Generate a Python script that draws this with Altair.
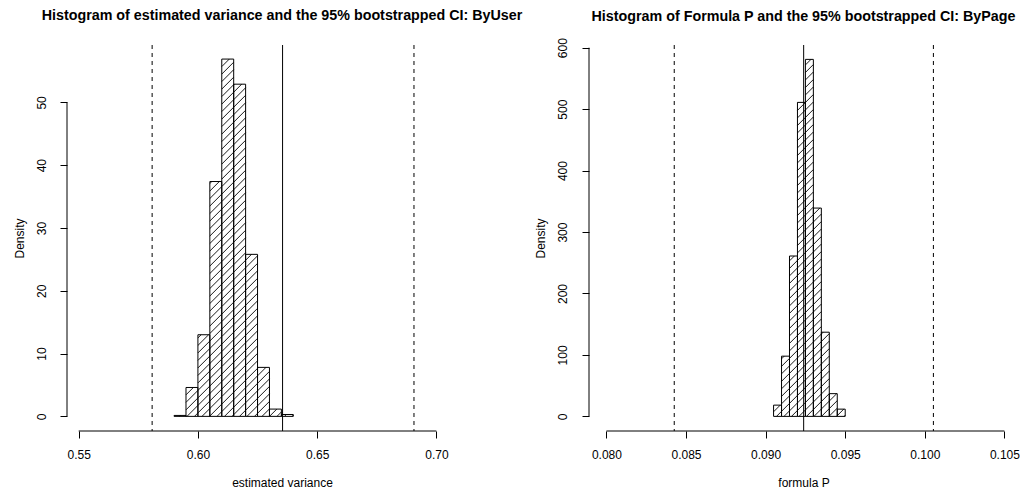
import math
import altair as alt
import pandas as pd

# ---------------- data ----------------
# Left panel: estimated variance (ByUser)
var_bin_start = [0.590, 0.595, 0.600, 0.605, 0.610, 0.615, 0.620, 0.625, 0.630, 0.635]
var_density = [0.15, 4.6, 13.0, 37.4, 56.9, 52.9, 25.8, 7.8, 1.16, 0.3]
var_bin_width = 0.005
var_ci = [0.5808, 0.6906]
var_estimate = [0.6355]
var_xticks = [0.55, 0.60, 0.65, 0.70]
var_yticks = [0, 10, 20, 30, 40, 50]

# Right panel: formula P (ByPage)
p_bin_start = [0.0905, 0.0910, 0.0915, 0.0920, 0.0925, 0.0930, 0.0935, 0.0940, 0.0945]
p_density = [18.3, 98, 261, 511, 581, 339, 137, 37, 11.8]
p_bin_width = 0.0005
p_ci = [0.08426, 0.10054]
p_estimate = [0.09239]
p_xticks = [0.080, 0.085, 0.090, 0.095, 0.100, 0.105]
p_yticks = [0, 100, 200, 300, 400, 500, 600]

# ---------------- layout ----------------
H = 386
W1, W2 = 430, 429
X1_DOM = [0.5451, 0.5451 + 430 / 2384.7]
Y1_DOM = [-2.33, 59.14]
X2_DOM = [0.078905, 0.078905 + 433 / 16067.0]
Y2_DOM = [-23.8, 604.4]
FONT = "Liberation Sans"
HATCH_PX = 7.5


def hatch_lines(starts, dens, bw, xdom, ydom, w, h, spacing_px=HATCH_PX):
    kx = w / (xdom[1] - xdom[0])
    ky = h / (ydom[1] - ydom[0])
    s = kx / ky
    d = spacing_px / ky
    xr = xdom[0]
    rows = []
    for x0, dv in zip(starts, dens):
        x1 = x0 + bw
        cmin = 0 - s * (x1 - xr)
        cmax = dv - s * (x0 - xr)
        for j in range(math.ceil(cmin / d), math.floor(cmax / d) + 1):
            c = j * d
            xa = max(x0, xr + (0 - c) / s)
            xb = min(x1, xr + (dv - c) / s)
            if xb - xa > 1e-12:
                rows.append({"x": xa, "y": s * (xa - xr) + c,
                             "x2": xb, "y2": s * (xb - xr) + c})
    return pd.DataFrame(rows)


def panel(starts, dens, bw, ci, est, xticks, yticks, xdom, ydom, w,
          xtitle, title, xfmt, ylabpad, ytitlex, title_offset):
    xs = alt.Scale(domain=xdom, nice=False, zero=False)
    ys = alt.Scale(domain=ydom, nice=False, zero=False)
    xax = alt.Axis(values=xticks, format=xfmt, title=xtitle,
                   labelPadding=11, titleY=55, titleBaseline="alphabetic")
    yax = alt.Axis(values=yticks, title="Density", labelAngle=270,
                   labelAlign="center", labelBaseline="bottom",
                   labelPadding=ylabpad, titleX=ytitlex,
                   titleBaseline="middle")
    bars = pd.DataFrame({"start": starts,
                         "end": [s + bw for s in starts],
                         "density": dens,
                         "base": [0] * len(starts)})
    base = alt.Chart(bars).mark_rect(
        fill="white", fillOpacity=0, stroke="black", strokeWidth=1
    ).encode(
        x=alt.X("start:Q", scale=xs, axis=xax),
        x2="end:Q",
        y=alt.Y("density:Q", scale=ys, axis=yax),
        y2="base:Q",
    )
    hatch = alt.Chart(hatch_lines(starts, dens, bw, xdom, ydom, w, H)).mark_rule(
        color="black", strokeWidth=0.9
    ).encode(
        x=alt.X("x:Q", scale=xs, axis=xax), x2="x2:Q",
        y=alt.Y("y:Q", scale=ys, axis=yax), y2="y2:Q",
    )
    # full-height vertical reference lines (plot frame top to bottom)
    ci_rules = alt.Chart(pd.DataFrame({"v": ci})).mark_rule(
        color="black", strokeWidth=1, strokeDash=[4, 4]
    ).encode(x=alt.X("v:Q", scale=xs, axis=xax),
             y=alt.value(0), y2=alt.value(H))
    est_rule = alt.Chart(pd.DataFrame({"v": est})).mark_rule(
        color="black", strokeWidth=1
    ).encode(x=alt.X("v:Q", scale=xs, axis=xax),
             y=alt.value(0), y2=alt.value(H))
    # R-style axis lines spanning first..last tick
    xline = alt.Chart(pd.DataFrame({"a": [xticks[0]], "b": [xticks[-1]]})).mark_rule(
        color="black", strokeWidth=1
    ).encode(x=alt.X("a:Q", scale=xs, axis=xax), x2="b:Q", y=alt.value(H))
    yline = alt.Chart(pd.DataFrame({"a": [yticks[0]], "b": [yticks[-1]]})).mark_rule(
        color="black", strokeWidth=1
    ).encode(y=alt.Y("a:Q", scale=ys, axis=yax), y2="b:Q", x=alt.value(0))
    return alt.layer(base, hatch, ci_rules, est_rule, xline, yline).properties(
        width=w, height=H,
        title=alt.TitleParams(title, fontSize=14.3, fontWeight="bold", font=FONT,
                              anchor="middle", frame="group", offset=title_offset,
                              baseline="alphabetic", color="black"),
    )


left = panel(var_bin_start, var_density, var_bin_width, var_ci, var_estimate,
             var_xticks, var_yticks, X1_DOM, Y1_DOM, W1, "estimated variance",
             "Histogram of estimated variance and the 95% bootstrapped CI: ByUser",
             ".2f", 11.5, -47.2, 10)
right = panel(p_bin_start, p_density, p_bin_width, p_ci, p_estimate,
              p_xticks, p_yticks, X2_DOM, Y2_DOM, W2, "formula P",
              "Histogram of Formula P and the 95% bootstrapped CI: ByPage",
              ".3f", 12.8, -49, 2.6)

chart = alt.hconcat(left, right, spacing=92, bounds="flush").properties(
    padding={"left": 5, "top": 1, "right": 0, "bottom": 0},
    background="white",
).configure_view(stroke=None).configure_axis(
    grid=False, domain=False, tickColor="black", tickSize=7, tickWidth=1,
    labelColor="black", labelFont=FONT, labelFontSize=12,
    titleColor="black", titleFont=FONT, titleFontSize=12,
    titleFontWeight="normal",
)

chart.save("out.html", embed_options={"renderer": "svg", "actions": False})
